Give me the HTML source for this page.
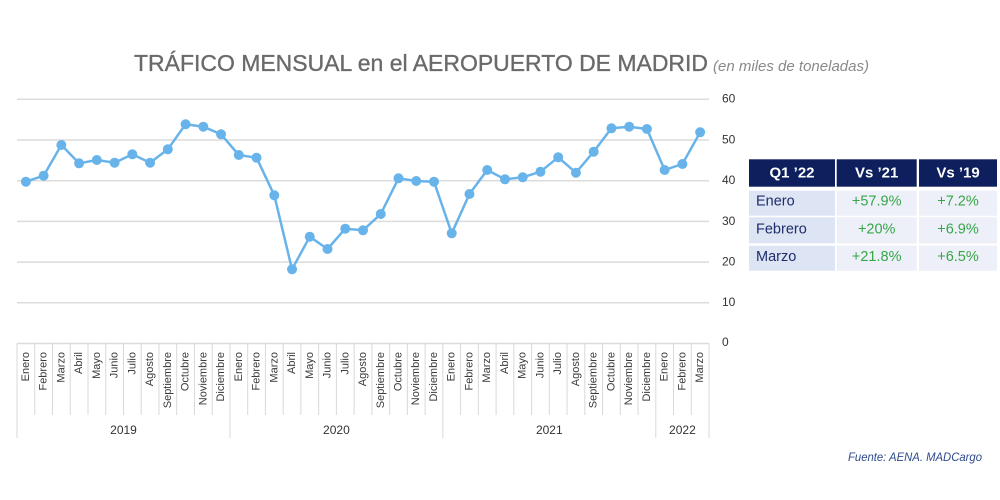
<!DOCTYPE html>
<html><head><meta charset="utf-8"><style>
html,body{margin:0;padding:0;background:#fff;}
svg{display:block;}
</style></head><body>
<svg width="1000" height="500" viewBox="0 0 1000 500" xmlns="http://www.w3.org/2000/svg" font-family="Liberation Sans, sans-serif">
<rect width="1000" height="500" fill="#fff"/>
<!-- title -->
<text x="134" y="71" font-size="23" fill="#6a6a6a" stroke="#6a6a6a" stroke-width="0.35" textLength="574" lengthAdjust="spacingAndGlyphs">TRÁFICO MENSUAL en el AEROPUERTO DE MADRID</text>
<text x="713" y="71" font-size="14.5" font-style="italic" fill="#8a8a8a" textLength="156" lengthAdjust="spacingAndGlyphs">(en miles de toneladas)</text>
<!-- gridlines -->
<g stroke="#dcdcdc" stroke-width="1.5">
<line x1="17" x2="709" y1="99.3" y2="99.3"/>
<line x1="17" x2="709" y1="140" y2="140"/>
<line x1="17" x2="709" y1="180.7" y2="180.7"/>
<line x1="17" x2="709" y1="221.4" y2="221.4"/>
<line x1="17" x2="709" y1="262.1" y2="262.1"/>
<line x1="17" x2="709" y1="302.8" y2="302.8"/>
<line x1="17" x2="709" y1="343.5" y2="343.5"/>
</g>
<!-- y labels -->
<g font-size="12" fill="#333" dominant-baseline="central">
<text x="722" y="98.5">60</text>
<text x="722" y="139.5">50</text>
<text x="722" y="180">40</text>
<text x="722" y="221">30</text>
<text x="722" y="261.5">20</text>
<text x="722" y="302">10</text>
<text x="722" y="342">0</text>
</g>
<!-- category separators -->
<path stroke="#d9d9d9" stroke-width="1" fill="none" d="
M17,343.5V438 M34.74,343.5V415 M52.49,343.5V415 M70.23,343.5V415 M87.98,343.5V415 M105.72,343.5V415 M123.46,343.5V415 M141.21,343.5V415 M158.95,343.5V415 M176.70,343.5V415 M194.44,343.5V415 M212.18,343.5V415
M229.93,343.5V438 M247.67,343.5V415 M265.42,343.5V415 M283.16,343.5V415 M300.90,343.5V415 M318.65,343.5V415 M336.39,343.5V415 M354.14,343.5V415 M371.88,343.5V415 M389.62,343.5V415 M407.37,343.5V415 M425.11,343.5V415
M442.86,343.5V438 M460.60,343.5V415 M478.34,343.5V415 M496.09,343.5V415 M513.83,343.5V415 M531.58,343.5V415 M549.32,343.5V415 M567.06,343.5V415 M584.81,343.5V415 M602.55,343.5V415 M620.30,343.5V415 M638.04,343.5V415
M655.78,343.5V438 M673.53,343.5V415 M691.27,343.5V415 M709,343.5V438"/>
<!-- month labels -->
<g font-size="11" fill="#3a3a3a" text-anchor="end" dominant-baseline="central">
<text transform="translate(25.87,352) rotate(-90)">Enero</text>
<text transform="translate(43.62,352) rotate(-90)">Febrero</text>
<text transform="translate(61.36,352) rotate(-90)">Marzo</text>
<text transform="translate(79.10,352) rotate(-90)">Abril</text>
<text transform="translate(96.85,352) rotate(-90)">Mayo</text>
<text transform="translate(114.59,352) rotate(-90)">Junio</text>
<text transform="translate(132.34,352) rotate(-90)">Julio</text>
<text transform="translate(150.08,352) rotate(-90)">Agosto</text>
<text transform="translate(167.82,352) rotate(-90)">Septiembre</text>
<text transform="translate(185.57,352) rotate(-90)">Octubre</text>
<text transform="translate(203.31,352) rotate(-90)">Noviembre</text>
<text transform="translate(221.06,352) rotate(-90)">Diciembre</text>
<text transform="translate(238.80,352) rotate(-90)">Enero</text>
<text transform="translate(256.54,352) rotate(-90)">Febrero</text>
<text transform="translate(274.29,352) rotate(-90)">Marzo</text>
<text transform="translate(292.03,352) rotate(-90)">Abril</text>
<text transform="translate(309.78,352) rotate(-90)">Mayo</text>
<text transform="translate(327.52,352) rotate(-90)">Junio</text>
<text transform="translate(345.26,352) rotate(-90)">Julio</text>
<text transform="translate(363.01,352) rotate(-90)">Agosto</text>
<text transform="translate(380.75,352) rotate(-90)">Septiembre</text>
<text transform="translate(398.50,352) rotate(-90)">Octubre</text>
<text transform="translate(416.24,352) rotate(-90)">Noviembre</text>
<text transform="translate(433.98,352) rotate(-90)">Diciembre</text>
<text transform="translate(451.73,352) rotate(-90)">Enero</text>
<text transform="translate(469.47,352) rotate(-90)">Febrero</text>
<text transform="translate(487.22,352) rotate(-90)">Marzo</text>
<text transform="translate(504.96,352) rotate(-90)">Abril</text>
<text transform="translate(522.70,352) rotate(-90)">Mayo</text>
<text transform="translate(540.45,352) rotate(-90)">Junio</text>
<text transform="translate(558.19,352) rotate(-90)">Julio</text>
<text transform="translate(575.94,352) rotate(-90)">Agosto</text>
<text transform="translate(593.68,352) rotate(-90)">Septiembre</text>
<text transform="translate(611.42,352) rotate(-90)">Octubre</text>
<text transform="translate(629.17,352) rotate(-90)">Noviembre</text>
<text transform="translate(646.91,352) rotate(-90)">Diciembre</text>
<text transform="translate(664.66,352) rotate(-90)">Enero</text>
<text transform="translate(682.40,352) rotate(-90)">Febrero</text>
<text transform="translate(700.14,352) rotate(-90)">Marzo</text>
</g>
<!-- year labels -->
<g font-size="12" fill="#333" text-anchor="middle">
<text x="123.5" y="434">2019</text>
<text x="336.4" y="434">2020</text>
<text x="549.3" y="434">2021</text>
<text x="682.4" y="434">2022</text>
</g>
<!-- series -->
<polyline fill="none" stroke="#68b4ea" stroke-width="2.5" stroke-linejoin="round" points="
25.87,181.7 43.62,175.7 61.36,145 79.10,163.3 96.85,160 114.59,162.7 132.34,154.3 150.08,162.7 167.82,149.3 185.57,124.3 203.31,126.7 221.06,134.3
238.80,155 256.54,157.7 274.29,195.3 292.03,269.3 309.78,236.7 327.52,249 345.26,228.7 363.01,230.3 380.75,214 398.50,178.3 416.24,181 433.98,181.7
451.73,233.3 469.47,194 487.22,170 504.96,179.3 522.70,177.3 540.45,171.7 558.19,157.3 575.94,172.7 593.68,151.7 611.42,128.3 629.17,126.7 646.91,129
664.66,170 682.40,164 700.14,132.3"/>
<g fill="#68b4ea">
<circle cx="25.87" cy="181.7" r="5"/><circle cx="43.62" cy="175.7" r="5"/><circle cx="61.36" cy="145" r="5"/><circle cx="79.10" cy="163.3" r="5"/><circle cx="96.85" cy="160" r="5"/><circle cx="114.59" cy="162.7" r="5"/><circle cx="132.34" cy="154.3" r="5"/><circle cx="150.08" cy="162.7" r="5"/><circle cx="167.82" cy="149.3" r="5"/><circle cx="185.57" cy="124.3" r="5"/><circle cx="203.31" cy="126.7" r="5"/><circle cx="221.06" cy="134.3" r="5"/>
<circle cx="238.80" cy="155" r="5"/><circle cx="256.54" cy="157.7" r="5"/><circle cx="274.29" cy="195.3" r="5"/><circle cx="292.03" cy="269.3" r="5"/><circle cx="309.78" cy="236.7" r="5"/><circle cx="327.52" cy="249" r="5"/><circle cx="345.26" cy="228.7" r="5"/><circle cx="363.01" cy="230.3" r="5"/><circle cx="380.75" cy="214" r="5"/><circle cx="398.50" cy="178.3" r="5"/><circle cx="416.24" cy="181" r="5"/><circle cx="433.98" cy="181.7" r="5"/>
<circle cx="451.73" cy="233.3" r="5"/><circle cx="469.47" cy="194" r="5"/><circle cx="487.22" cy="170" r="5"/><circle cx="504.96" cy="179.3" r="5"/><circle cx="522.70" cy="177.3" r="5"/><circle cx="540.45" cy="171.7" r="5"/><circle cx="558.19" cy="157.3" r="5"/><circle cx="575.94" cy="172.7" r="5"/><circle cx="593.68" cy="151.7" r="5"/><circle cx="611.42" cy="128.3" r="5"/><circle cx="629.17" cy="126.7" r="5"/><circle cx="646.91" cy="129" r="5"/>
<circle cx="664.66" cy="170" r="5"/><circle cx="682.40" cy="164" r="5"/><circle cx="700.14" cy="132.3" r="5"/>
</g>
<!-- table -->
<g>
<rect x="749" y="159.3" width="86" height="27.4" fill="#0d1f5c"/>
<rect x="836.7" y="159.3" width="80" height="27.4" fill="#0d1f5c"/>
<rect x="919" y="159.3" width="78" height="27.4" fill="#0d1f5c"/>
<rect x="749" y="190.7" width="86" height="25" fill="#dde4f3"/>
<rect x="836.7" y="190.7" width="80" height="25" fill="#edf0f8"/>
<rect x="919" y="190.7" width="78" height="25" fill="#edf0f8"/>
<rect x="749" y="217.3" width="86" height="26" fill="#dde4f3"/>
<rect x="836.7" y="217.3" width="80" height="26" fill="#edf0f8"/>
<rect x="919" y="217.3" width="78" height="26" fill="#edf0f8"/>
<rect x="749" y="245.7" width="86" height="25" fill="#dde4f3"/>
<rect x="836.7" y="245.7" width="80" height="25" fill="#edf0f8"/>
<rect x="919" y="245.7" width="78" height="25" fill="#edf0f8"/>
</g>
<g font-size="15" font-weight="bold" fill="#fff" text-anchor="middle" dominant-baseline="central">
<text x="792" y="173">Q1 ’22</text>
<text x="876.7" y="173">Vs ’21</text>
<text x="958" y="173">Vs ’19</text>
</g>
<g font-size="14.5" fill="#1e2d6b" dominant-baseline="central">
<text x="756" y="201.5">Enero</text>
<text x="756" y="229.5">Febrero</text>
<text x="756" y="257">Marzo</text>
</g>
<g font-size="14.5" fill="#37a548" text-anchor="middle" dominant-baseline="central">
<text x="876.7" y="201.5">+57.9%</text>
<text x="958" y="201.5">+7.2%</text>
<text x="876.7" y="229.5">+20%</text>
<text x="958" y="229.5">+6.9%</text>
<text x="876.7" y="257">+21.8%</text>
<text x="958" y="257">+6.5%</text>
</g>
<text x="848" y="461" font-size="12" font-style="italic" fill="#2e4a8c" textLength="134" lengthAdjust="spacingAndGlyphs">Fuente: AENA. MADCargo</text>
</svg>
</body></html>
